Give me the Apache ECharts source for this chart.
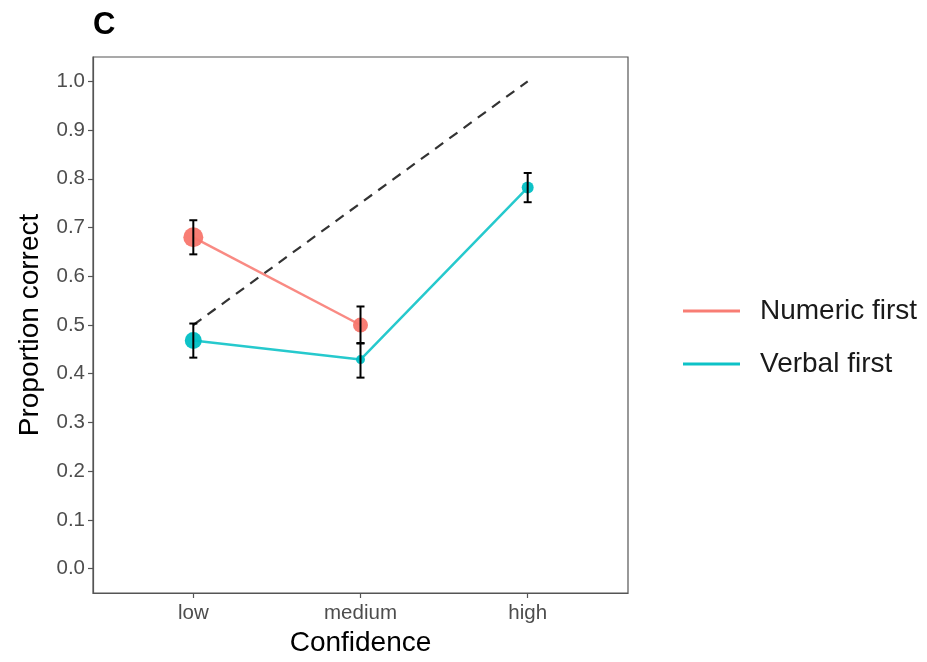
<!DOCTYPE html>
<html>
<head>
<meta charset="utf-8">
<script src="https://cdn.jsdelivr.net/npm/echarts@6/dist/echarts.min.js"></script>
<style>
html,body{margin:0;padding:0;background:#fff;}
#chart{width:927px;height:662px;}
</style>
</head>
<body>
<div id="chart"></div>
<script>
// ---- data ----
const categories = ['low', 'medium', 'high'];
const yTicks = [0, 0.1, 0.2, 0.3, 0.4, 0.5, 0.6, 0.7, 0.8, 0.9, 1.0];
const seriesNames = ['Numeric first', 'Verbal first'];
const numericMean = [0.68, 0.50];
const numericLow  = [0.645, 0.462];
const numericHigh = [0.715, 0.538];
const verbalMean = [0.468, 0.429, 0.782];
const verbalLow  = [0.433, 0.392, 0.752];
const verbalHigh = [0.503, 0.463, 0.812];
const calibration = [0.5, 0.75, 1.0];   // ideal line low->high
// marker diameters (style)
const numericSizes = [20, 15];
const verbalSizes = [17, 9, 12];

const RED = '#F8766D', TEAL = '#00BFC4';

function pts(vals) { return vals.map((v, i) => [i + 1, v]); }
function bars(lo, hi) { return lo.map((l, i) => [i + 1, l, hi[i]]); }

function errRender(params, api) {
  const x = api.value(0);
  const p1 = api.coord([x, api.value(1)]);
  const p2 = api.coord([x, api.value(2)]);
  const w = 4;
  const st = { stroke: '#000', lineWidth: 2 };
  return {
    type: 'group',
    children: [
      { type: 'line', shape: { x1: p1[0], y1: p1[1], x2: p2[0], y2: p2[1] }, style: st },
      { type: 'line', shape: { x1: p1[0] - w, y1: p1[1], x2: p1[0] + w, y2: p1[1] }, style: st },
      { type: 'line', shape: { x1: p2[0] - w, y1: p2[1], x2: p2[0] + w, y2: p2[1] }, style: st }
    ]
  };
}

const chart = echarts.init(document.getElementById('chart'), null, { renderer: 'canvas' });
const option = {
  animation: false,
  backgroundColor: '#fff',
  textStyle: { fontFamily: 'Liberation Sans, Arial, sans-serif' },
  title: {
    text: 'C', left: 88, top: 5,
    textStyle: { fontSize: 31, fontWeight: 'bold', color: '#000', fontFamily: 'Liberation Sans, Arial, sans-serif' }
  },
  grid: {
    left: 93, right: 299, top: 57, bottom: 66,
    show: true, borderColor: '#555', borderWidth: 1.2, backgroundColor: 'transparent'
  },
  legend: {
    orient: 'vertical', left: 678, top: 291,
    data: seriesNames,
    icon: 'rect', itemWidth: 57, itemHeight: 3, itemGap: 23,
    textStyle: { fontSize: 28, color: '#1a1a1a', lineHeight: 30, padding: [0, 0, 0, 15] }
  },
  xAxis: {
    type: 'value', min: 0.4, max: 3.6,
    name: 'Confidence', nameLocation: 'middle', nameGap: 36,
    nameTextStyle: { fontSize: 28, color: '#000' },
    axisLine: { show: true, onZero: false, lineStyle: { color: '#555', width: 1.2 } },
    axisTick: { show: true, length: 5, customValues: [1, 2, 3], lineStyle: { color: '#555', width: 1.2 } },
    axisLabel: { customValues: [1, 2, 3], fontSize: 20.5, color: '#4D4D4D', margin: 10,
      formatter: v => categories[Math.round(v) - 1] || '' },
    splitLine: { show: false }
  },
  yAxis: {
    type: 'value', min: -0.05, max: 1.05,
    name: 'Proportion correct', nameLocation: 'middle', nameGap: 49,
    nameTextStyle: { fontSize: 28, color: '#000' },
    axisLine: { show: true, onZero: false, lineStyle: { color: '#555', width: 1.2 } },
    axisTick: { show: true, length: 5, customValues: yTicks, lineStyle: { color: '#555', width: 1.2 } },
    axisLabel: { customValues: yTicks, fontSize: 20.5, color: '#4D4D4D', margin: 8,
      formatter: v => v.toFixed(1) },
    splitLine: { show: false }
  },
  series: [
    {
      name: 'calibration', type: 'line', data: pts(calibration), symbol: 'none',
      lineStyle: { color: '#333', width: 2.2, type: [10, 7.6] }, z: 3, silent: true
    },
    {
      name: seriesNames[0], type: 'line', data: pts(numericMean),
      color: RED,
      symbol: 'circle', symbolSize: (v, p) => numericSizes[p.dataIndex],
      lineStyle: { color: RED, width: 2.5, opacity: 0.85 },
      itemStyle: { color: RED, opacity: 0.95 }, z: 2
    },
    {
      name: seriesNames[1], type: 'line', data: pts(verbalMean),
      color: TEAL,
      symbol: 'circle', symbolSize: (v, p) => verbalSizes[p.dataIndex],
      lineStyle: { color: TEAL, width: 2.5, opacity: 0.85 },
      itemStyle: { color: TEAL, opacity: 0.95 }, z: 2
    },
    {
      name: 'errNumeric', type: 'custom', renderItem: errRender,
      data: bars(numericLow, numericHigh), encode: { x: 0, y: [1, 2] }, z: 5, silent: true
    },
    {
      name: 'errVerbal', type: 'custom', renderItem: errRender,
      data: bars(verbalLow, verbalHigh), encode: { x: 0, y: [1, 2] }, z: 5, silent: true
    }
  ]
};
chart.setOption(option);
</script>
</body>
</html>
